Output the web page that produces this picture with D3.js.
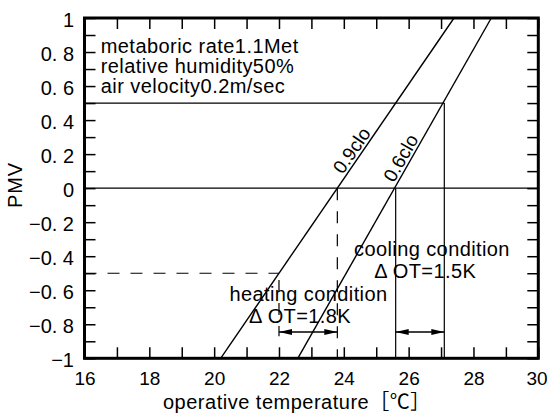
<!DOCTYPE html>
<html><head><meta charset="utf-8">
<script src="https://cdn.jsdelivr.net/npm/d3@7"></script>
<style>
body{margin:0;background:#fff}
svg{display:block}
text{font-family:"Liberation Sans",Arial,"Noto Sans CJK JP",sans-serif;fill:#000}
</style>
</head><body><svg id="c" width="548" height="415"></svg>
<script>
// ---- data ----
const xTickValues = [16,17,18,19,20,21,22,23,24,25,26,27,28,29,30];
const xLabelValues = [16,18,20,22,24,26,28,30];
const xTickLabels = ["16","18","20","22","24","26","28","30"];
const yTickValues = [1,0.9,0.8,0.7,0.6,0.5,0.4,0.3,0.2,0.1,0,-0.1,-0.2,-0.3,-0.4,-0.5,-0.6,-0.7,-0.8,-0.9,-1];
const yLabelValues = [1,0.8,0.6,0.4,0.2,0,-0.2,-0.4,-0.6,-0.8,-1];
const yTickLabels = ["1","0. 8","0. 6","0. 4","0. 2","0","\u22120. 2","\u22120. 4","\u22120. 6","\u22120. 8","\u22121"];
const clothing = ["0.9clo","0.6clo"];
const linePMV = [-1, 1];
const clo09OT = [20.2, 27.4];
const clo06OT = [22.58, 28.55];
const heatingOT = [22.0, 23.8];
const coolingOT = [25.6, 27.1];
const comfortPMV = [0.5, 0, -0.5];
const arrowPMV = -0.845;
const infoLines = ["metaboric rate1.1Met","relative humidity50%","air velocity0.2m/sec"];
const heatingText = ["heating condition","\u0394 OT=1.8K"];
const coolingText = ["cooling condition","\u0394 OT=1.5K"];
const xTitle = "operative temperature\uFF3B\u2103\uFF3D";
const yTitle = "PMV";

// ---- layout ----
const L = 84.5, R = 538.3, T = 18, B = 358.3;
const x = d3.scaleLinear().domain([16,30]).range([L,R]);
const y = d3.scaleLinear().domain([-1,1]).range([B,T]);
const svg = d3.select("#c");
const near = (a,b)=>Math.abs(a-b)<1e-9;

// ---- axes ----
function styleAxis(g){
  g.select(".domain").remove();
  g.selectAll(".tick line").attr("stroke","#000").attr("stroke-width",1.5);
}
const gb = svg.append("g").attr("transform",`translate(0,${B})`)
  .call(d3.axisBottom(x).tickValues(xTickValues).tickSize(-11).tickFormat(d=>{
    const i = xLabelValues.findIndex(v=>near(v,d)); return i>=0?xTickLabels[i]:"";}));
styleAxis(gb);
gb.selectAll(".tick text").attr("y",27.2).attr("dy",0).attr("font-size",19)
  .attr("x",d=>near(d,30)?-1.8:0)
  .style("font-family",'"Liberation Sans",Arial,sans-serif');

const gt = svg.append("g").attr("transform",`translate(0,${T})`)
  .call(d3.axisTop(x).tickValues(xTickValues).tickSize(-11).tickFormat(""));
styleAxis(gt);

const gl = svg.append("g").attr("transform",`translate(${L},0)`)
  .call(d3.axisLeft(y).tickValues(yTickValues).tickSize(-11).tickFormat(d=>{
    const i = yLabelValues.findIndex(v=>near(v,d)); return i>=0?yTickLabels[i]:"";}));
styleAxis(gl);
gl.selectAll(".tick text").attr("x",-10.5).attr("dy","0.42em").attr("font-size",20)
  .style("font-family",'"Liberation Sans",Arial,sans-serif');

const gr = svg.append("g").attr("transform",`translate(${R},0)`)
  .call(d3.axisRight(y).tickValues(yTickValues).tickSize(-11).tickFormat(""));
styleAxis(gr);

// ---- reference lines ----
const ref = svg.append("g").attr("stroke","#000").attr("stroke-width",1.2).attr("fill","none");
function seg(x1,y1,x2,y2,dash){
  const l = ref.append("line").attr("x1",x(x1)).attr("y1",y(y1)).attr("x2",x(x2)).attr("y2",y(y2));
  if(dash) l.attr("stroke-dasharray","12,11");
  return l;
}
seg(16, comfortPMV[1], 30, comfortPMV[1]);                 // PMV 0
seg(16, comfortPMV[0], coolingOT[1], comfortPMV[0]);       // PMV +0.5
seg(coolingOT[0], comfortPMV[1], coolingOT[0], -1);
seg(coolingOT[1], comfortPMV[0], coolingOT[1], -1);
seg(16, comfortPMV[2], heatingOT[0], comfortPMV[2], true); // PMV -0.5
seg(heatingOT[1], comfortPMV[1], heatingOT[1], -1, true);
seg(heatingOT[0], -0.54, heatingOT[0], -0.87, true);

// ---- clothing lines ----
const series = [clo09OT, clo06OT];
const lineGen = d3.line().x(d=>x(d[1])).y(d=>y(d[0]));
series.forEach(ot=>{
  svg.append("path").datum(linePMV.map((p,i)=>[p,ot[i]]))
    .attr("d",lineGen).attr("fill","none").attr("stroke","#000").attr("stroke-width",1.4);
});
const labelPMV = [0.19, 0.15];
series.forEach((ot,k)=>{
  const x1=x(ot[0]), y1=y(linePMV[0]), x2=x(ot[1]), y2=y(linePMV[1]);
  const len = Math.hypot(x2-x1,y2-y1);
  const ux=(x2-x1)/len, uy=(y2-y1)/len;
  const nx=uy, ny=-ux;
  const t = (labelPMV[k]-linePMV[0])/(linePMV[1]-linePMV[0]);
  const px = x1+(x2-x1)*t + 9.5*nx, py = y1+(y2-y1)*t + 9.5*ny;
  const ang = Math.atan2(y2-y1,x2-x1)*180/Math.PI;
  svg.append("text").attr("transform",`translate(${px},${py}) rotate(${ang})`)
    .attr("text-anchor","middle").attr("dominant-baseline","central")
    .attr("font-size",19).text(clothing[k]);
});

// ---- arrows ----
function dimArrow(a,b){
  const xa=x(a), xb=x(b), yy=y(arrowPMV);
  svg.append("line").attr("x1",xa).attr("x2",xb).attr("y1",yy).attr("y2",yy)
    .attr("stroke","#000").attr("stroke-width",1.4);
  const hl=13, hw=3;
  svg.append("path").attr("d",`M${xa},${yy}L${xa+hl},${yy-hw}L${xa+hl},${yy+hw}Z`).attr("fill","#000");
  svg.append("path").attr("d",`M${xb},${yy}L${xb-hl},${yy-hw}L${xb-hl},${yy+hw}Z`).attr("fill","#000");
}
dimArrow(heatingOT[0],heatingOT[1]);
dimArrow(coolingOT[0],coolingOT[1]);

// ---- annotations ----
const ann = svg.append("g").attr("font-size",20).style("letter-spacing","0.4px").attr("text-anchor","middle");
ann.append("text").attr("x",x(26.72)).attr("y",y(-0.397)).text(coolingText[0]);
ann.append("text").attr("x",x(26.51)).attr("y",y(-0.53)).text(coolingText[1]);
ann.append("text").attr("x",x(22.91)).attr("y",y(-0.661)).text(heatingText[0]);
ann.append("text").attr("x",x(22.65)).attr("y",y(-0.794)).text(heatingText[1]);

const info = svg.append("g").attr("font-size",20).style("letter-spacing","0.45px");
infoLines.forEach((s,i)=>info.append("text").attr("x",L+16.2).attr("y",T+34.7+i*20.3).text(s));

// ---- titles ----
svg.append("text").attr("x",163).attr("y",409).attr("font-size",20).style("letter-spacing","0.5px").text(xTitle);
svg.append("text").attr("transform",`translate(22,185) rotate(-90)`).attr("text-anchor","middle")
  .attr("font-size",20).style("letter-spacing","0.8px").text(yTitle);

// ---- frame ----
svg.append("rect").attr("x",L).attr("y",T).attr("width",R-L).attr("height",B-T)
  .attr("fill","none").attr("stroke","#000").attr("stroke-width",3);
</script>
</body></html>
